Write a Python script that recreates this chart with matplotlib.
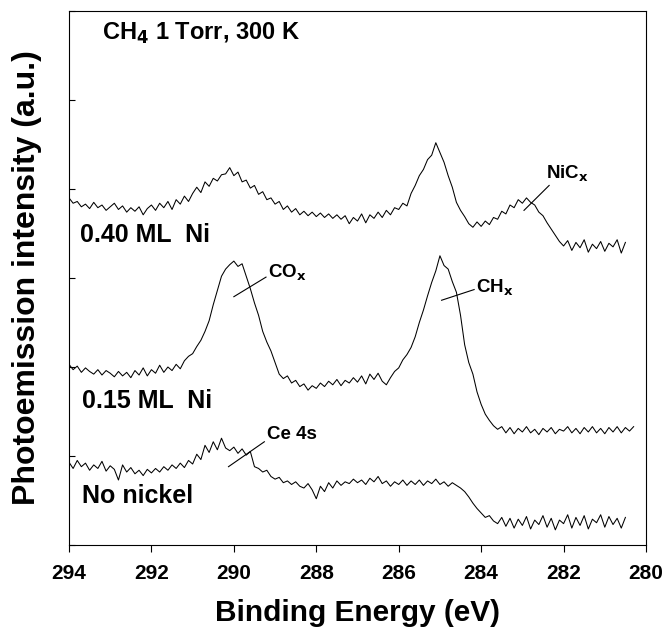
import numpy as np
import matplotlib
matplotlib.use("Agg")
import matplotlib.pyplot as plt

plt.rcParams["font.family"] = ["Liberation Sans", "DejaVu Sans"]
plt.rcParams["font.weight"] = "bold"

# spectra, 0.1 eV steps starting at 294 eV (offset units)
ni_040 = [3.90, 3.84, 3.86, 3.80, 3.83, 3.78, 3.85, 3.79, 3.82, 3.76,
          3.80, 3.84, 3.77, 3.81, 3.74, 3.79, 3.75, 3.80, 3.71, 3.78,
          3.82, 3.76, 3.84, 3.79, 3.86, 3.77, 3.88, 3.83, 3.92, 3.86,
          3.95, 4.02, 3.96, 4.08, 4.03, 4.12, 4.09, 4.16, 4.17, 4.24,
          4.15, 4.19, 4.08, 4.10, 4.01, 4.04, 3.94, 3.97, 3.88, 3.90,
          3.83, 3.86, 3.77, 3.81, 3.74, 3.78, 3.71, 3.75, 3.70, 3.74,
          3.69, 3.73, 3.68, 3.72, 3.67, 3.71, 3.66, 3.70, 3.61, 3.68,
          3.64, 3.72, 3.62, 3.71, 3.67, 3.74, 3.68, 3.76, 3.71, 3.79,
          3.77, 3.84, 3.81, 3.95, 4.04, 4.15, 4.22, 4.33, 4.38, 4.52,
          4.41, 4.30, 4.15, 4.02, 3.85, 3.76, 3.69, 3.61, 3.57, 3.63,
          3.58, 3.64, 3.60, 3.68, 3.66, 3.75, 3.72, 3.82, 3.79, 3.88,
          3.84, 3.90, 3.85, 3.82, 3.74, 3.70, 3.62, 3.55, 3.48, 3.41,
          3.36, 3.42, 3.31, 3.40, 3.34, 3.43, 3.29, 3.38, 3.33, 3.41,
          3.30, 3.39, 3.35, 3.43, 3.28, 3.40]

ni_015 = [2.03, 1.97, 2.01, 1.94, 1.99, 1.95, 1.92, 1.97, 1.91, 1.96,
          1.93, 1.89, 1.95, 1.90, 1.94, 1.88, 1.96, 1.91, 1.99, 1.90,
          1.97, 1.93, 2.02, 1.94, 2.00, 1.96, 2.03, 1.98, 2.07, 2.12,
          2.15, 2.23, 2.30, 2.40, 2.52, 2.70, 2.86, 3.02, 3.10, 3.15,
          3.19, 3.13, 3.16, 3.02, 2.88, 2.72, 2.58, 2.40, 2.28, 2.18,
          2.05, 1.92, 1.87, 1.90, 1.82, 1.85, 1.78, 1.81, 1.74, 1.79,
          1.76, 1.82, 1.78, 1.84, 1.80, 1.86, 1.79, 1.85, 1.82, 1.88,
          1.83, 1.90, 1.81, 1.92, 1.86, 1.93, 1.84, 1.80, 1.88, 1.95,
          1.99, 2.08, 2.14, 2.22, 2.34, 2.50, 2.64, 2.80, 2.95, 3.08,
          3.25, 3.14, 3.10, 2.96, 2.84, 2.58, 2.25, 2.05, 1.92, 1.72,
          1.58, 1.47, 1.40, 1.34, 1.30, 1.33, 1.26, 1.32, 1.25, 1.31,
          1.27, 1.33, 1.26, 1.30, 1.24, 1.31, 1.27, 1.32, 1.25, 1.30,
          1.28, 1.33, 1.26, 1.31, 1.25, 1.32, 1.27, 1.33, 1.26, 1.31,
          1.25, 1.32, 1.27, 1.33, 1.26, 1.32, 1.28, 1.33]

no_ni = [0.93, 0.86, 0.95, 0.88, 0.92, 0.84, 0.90, 0.86, 0.94, 0.83,
         0.89, 0.85, 0.73, 0.90, 0.82, 0.87, 0.80, 0.84, 0.78, 0.85,
         0.81, 0.86, 0.82, 0.88, 0.84, 0.90, 0.86, 0.92, 0.87, 0.95,
         0.91, 1.02, 0.96, 1.12, 1.04, 1.16, 1.07, 1.20, 1.09, 1.06,
         1.10, 1.03, 1.08, 1.01, 1.05, 0.88, 0.86, 0.82, 0.84, 0.77,
         0.74, 0.76, 0.70, 0.72, 0.68, 0.71, 0.66, 0.64, 0.69, 0.62,
         0.52, 0.66, 0.60, 0.70, 0.64, 0.72, 0.67, 0.71, 0.69, 0.74,
         0.70, 0.73, 0.68, 0.75, 0.71, 0.77, 0.69, 0.72, 0.66, 0.71,
         0.68, 0.73, 0.67, 0.72, 0.68, 0.73, 0.67, 0.72, 0.69, 0.74,
         0.68, 0.71, 0.66, 0.70, 0.67, 0.64, 0.60, 0.54, 0.47, 0.41,
         0.36, 0.31, 0.33, 0.27, 0.24, 0.31, 0.21, 0.30, 0.19, 0.29,
         0.22, 0.32, 0.18, 0.28, 0.23, 0.33, 0.20, 0.30, 0.17, 0.28,
         0.24, 0.34, 0.19, 0.31, 0.22, 0.33, 0.18, 0.29, 0.25, 0.34,
         0.20, 0.32, 0.23, 0.30, 0.19, 0.31]

xticks = [294, 292, 290, 288, 286, 284, 282, 280]

# peak labels: text, leader line start, leader line end, text anchor
peaks = [
    ("CO$_\\mathbf{x}$", (290.0, 2.79), (289.22, 3.01), (289.17, 3.00)),
    ("CH$_\\mathbf{x}$", (284.96, 2.75), (284.17, 2.87), (284.13, 2.84)),
    ("NiC$_\\mathbf{x}$", (282.96, 3.76), (282.35, 4.04), (282.42, 4.12)),
    ("Ce 4s", (290.13, 0.88), (289.26, 1.16), (289.20, 1.19)),
]


def energies(vals):
    return 294.0 - 0.1 * np.arange(len(vals))


fig = plt.figure(figsize=(6.65, 6.34), dpi=100)
ax = fig.add_axes([69 / 665, 89 / 634, 577 / 665, 534 / 634])

for vals in (ni_040, ni_015, no_ni):
    ax.plot(energies(vals), vals, color="black", lw=0.75)

ax.set_xlim(294, 280)
ax.set_ylim(0, 6)
ax.set_xticks(xticks)
ax.set_yticks(range(0, 7))
ax.set_yticklabels([])
ax.tick_params(axis="y", direction="in", length=4.5, width=0.8)
ax.tick_params(axis="x", direction="out", length=5, width=0.8,
               labelsize=15, pad=9)
for s in ax.spines.values():
    s.set_linewidth(0.8)

ax.set_xlabel("Binding Energy (eV)", fontsize=21.5, fontweight="bold",
              va="center")
ax.xaxis.set_label_coords(0.5, -0.128)
ax.set_ylabel("Photoemission intensity (a.u.)", fontsize=23, fontweight="bold",
              va="center")
ax.yaxis.set_label_coords(-0.072, 0.5)

# sample labels and header
ax.text(293.2, 5.75, "CH$_\\mathbf{4}$ 1 Torr, 300 K", fontsize=17,
        fontweight="bold", va="center")
ax.text(293.73, 3.48, "0.40 ML  Ni", fontsize=18, fontweight="bold", va="center")
ax.text(293.68, 1.62, "0.15 ML  Ni", fontsize=18, fontweight="bold", va="center")
ax.text(293.68, 0.55, "No nickel", fontsize=18, fontweight="bold", va="center")

for label, start, end, pos in peaks:
    ax.plot([start[0], end[0]], [start[1], end[1]], color="black", lw=0.8)
    ax.text(pos[0], pos[1], label, fontsize=13.5, fontweight="bold",
            va="baseline", ha="left")

fig.savefig("out.png", dpi=100)
